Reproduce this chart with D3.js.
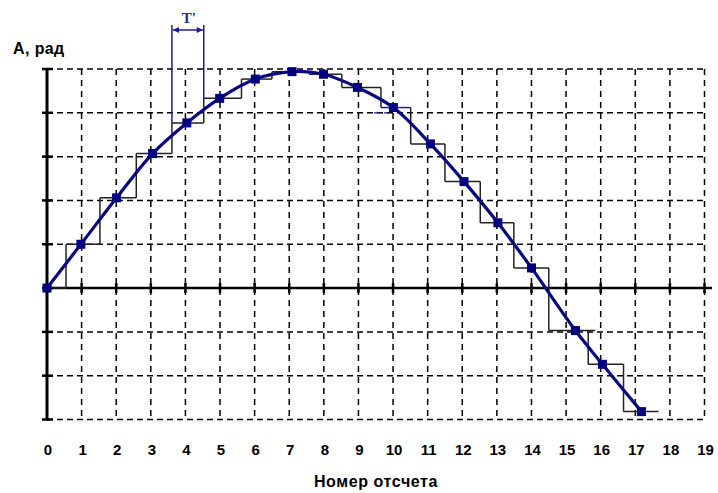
<!DOCTYPE html>
<html>
<head>
<meta charset="utf-8">
<script src="https://cdn.jsdelivr.net/npm/d3@7/dist/d3.min.js"></script>
<style>
  html, body { margin: 0; padding: 0; background: #fff; }
  svg { display: block; }
  text { font-family: Arial, "Liberation Sans", sans-serif; font-weight: bold; fill: #000; }
</style>
</head>
<body>
<script>
// sample positions (Номер отсчета) and signal values
var sampleX = [0, 0.98, 2.01, 3.05, 4.04, 4.99, 6.02, 7.08, 7.99, 8.97, 10.01, 11.08, 12.05, 13.03, 14.0, 15.27, 16.05, 17.18];
var sampleA = [0, 1.0, 2.06, 3.07, 3.77, 4.33, 4.77, 4.94, 4.88, 4.58, 4.12, 3.29, 2.43, 1.49, 0.46, -0.97, -1.74, -2.82];

// sample-and-hold staircase: where each held level starts and ends
var stepStart = [0, 0.55, 1.53, 2.58, 3.61, 4.53, 5.62, 6.5, 7.58, 8.52, 9.65, 10.51, 11.5, 12.52, 13.49, 14.5, 15.64, 16.66];
var stepEnd   = [0.55, 1.53, 2.58, 3.61, 4.53, 5.62, 6.5, 7.58, 8.52, 9.65, 10.51, 11.5, 12.52, 13.49, 14.5, 15.84, 16.66, 17.67];

var xTicks = d3.range(0, 20);
var yTicks = d3.range(-3, 6);

var width = 718, height = 493;

var x = d3.scaleLinear().domain([0, 19]).range([47, 704.5]);
var y = d3.scaleLinear().domain([-3, 5]).range([419.5, 69]);

var svg = d3.select("body").append("svg")
  .attr("width", width)
  .attr("height", height);

var defs = svg.append("defs");
["start", "end"].forEach(function(k) {
  defs.append("marker")
    .attr("id", "arr-" + k)
    .attr("viewBox", "0 0 10 10")
    .attr("refX", k === "end" ? 10 : 0)
    .attr("refY", 5)
    .attr("markerWidth", 8)
    .attr("markerHeight", 6)
    .attr("markerUnits", "userSpaceOnUse")
    .attr("orient", "auto")
    .append("path")
    .attr("d", k === "end" ? "M0,0 L10,5 L0,10 Z" : "M10,0 L0,5 L10,10 Z")
    .attr("fill", "#1c1c9a");
});

// ### GRID (dashed)
var grid = svg.append("g");
grid.selectAll("line.h")
  .data(yTicks.filter(function(d) { return d !== 0; }))
  .enter().append("line")
  .attr("class", "h")
  .attr("x1", x(0)).attr("x2", x(19))
  .attr("y1", function(d) { return y(d); })
  .attr("y2", function(d) { return y(d); })
  .attr("stroke", "#000").attr("stroke-width", 1.5)
  .attr("stroke-dasharray", "6,4");

grid.selectAll("line.v")
  .data(xTicks.slice(1))
  .enter().append("line")
  .attr("class", "v")
  .attr("x1", function(d) { return x(d); })
  .attr("x2", function(d) { return x(d); })
  .attr("y1", y(5)).attr("y2", y(-3))
  .attr("stroke", "#000").attr("stroke-width", 1.5)
  .attr("stroke-dasharray", "6,5");

// ### AXES
// vertical axis with short horizontal ticks
svg.append("line")
  .attr("x1", x(0)).attr("x2", x(0))
  .attr("y1", y(5) - 1).attr("y2", y(-3) + 1)
  .attr("stroke", "#000").attr("stroke-width", 3);
svg.selectAll("line.ytick")
  .data(yTicks)
  .enter().append("line")
  .attr("class", "ytick")
  .attr("x1", x(0) - 5).attr("x2", x(0) + 6)
  .attr("y1", function(d) { return y(d); })
  .attr("y2", function(d) { return y(d); })
  .attr("stroke", "#000").attr("stroke-width", 2.5);

// horizontal zero axis with vertical ticks
svg.append("line")
  .attr("x1", x(0)).attr("x2", 712)
  .attr("y1", y(0)).attr("y2", y(0))
  .attr("stroke", "#000").attr("stroke-width", 2.5);
svg.selectAll("line.xtick")
  .data(xTicks.slice(1))
  .enter().append("line")
  .attr("class", "xtick")
  .attr("x1", function(d) { return x(d); })
  .attr("x2", function(d) { return x(d); })
  .attr("y1", y(0) - 5).attr("y2", y(0) + 5)
  .attr("stroke", "#000").attr("stroke-width", 2.5);

// tick labels under the chart
svg.selectAll("text.xlab")
  .data(xTicks)
  .enter().append("text")
  .attr("class", "xlab")
  .attr("x", function(d) { return x(d) + 1; })
  .attr("y", 455)
  .attr("text-anchor", "middle")
  .style("font-size", "15px")
  .text(function(d) { return d; });

svg.append("text")
  .attr("x", 13).attr("y", 54)
  .style("font-size", "16px")
  .style("letter-spacing", "0.4px")
  .text("A, рад");

svg.append("text")
  .attr("x", 376).attr("y", 487)
  .attr("text-anchor", "middle")
  .style("font-size", "16px")
  .style("letter-spacing", "0.6px")
  .text("Номер отсчета");

// ### STAIRCASE (sample and hold)
var steps = svg.append("g");
steps.selectAll("line.hold")
  .data(sampleA)
  .enter().append("line")
  .attr("class", "hold")
  .attr("x1", function(d, i) { return x(stepStart[i]); })
  .attr("x2", function(d, i) { return x(stepEnd[i]); })
  .attr("y1", function(d) { return y(d); })
  .attr("y2", function(d) { return y(d); })
  .attr("stroke", function(d, i) { return i === 10 ? "#1c1c9a" : "#222"; })
  .attr("stroke-width", 1.5);
steps.selectAll("line.jump")
  .data(sampleA.slice(1))
  .enter().append("line")
  .attr("class", "jump")
  .attr("x1", function(d, i) { return x(stepStart[i + 1]); })
  .attr("x2", function(d, i) { return x(stepStart[i + 1]); })
  .attr("y1", function(d, i) { return y(sampleA[i]); })
  .attr("y2", function(d) { return y(d); })
  .attr("stroke", "#222")
  .attr("stroke-width", 1.5);

// small blue dash near sample 10
svg.append("line")
  .attr("x1", x(9.45)).attr("x2", x(9.95))
  .attr("y1", y(4)).attr("y2", y(4))
  .attr("stroke", "#1c1c9a").attr("stroke-width", 1.2)
  .attr("stroke-dasharray", "5,2,1,2");

// ### PERIOD BRACKET (T')
var bx = [stepStart[4], stepStart[5]];
var by = [sampleA[4], sampleA[5]];
svg.selectAll("line.brk")
  .data(bx)
  .enter().append("line")
  .attr("class", "brk")
  .attr("x1", function(d) { return x(d); })
  .attr("x2", function(d) { return x(d); })
  .attr("y1", 25)
  .attr("y2", function(d, i) { return y(by[i]); })
  .attr("stroke", "#1c1c9a").attr("stroke-width", 1.5);
svg.append("line")
  .attr("x1", x(bx[0]) + 1).attr("x2", x(bx[1]) - 1)
  .attr("y1", 30).attr("y2", 30)
  .attr("stroke", "#1c1c9a").attr("stroke-width", 1.5)
  .attr("marker-start", "url(#arr-start)")
  .attr("marker-end", "url(#arr-end)");
svg.append("text")
  .attr("x", (x(bx[0]) + x(bx[1])) / 2 + 1)
  .attr("y", 23)
  .attr("text-anchor", "middle")
  .style("font-family", "'Liberation Serif', 'DejaVu Serif', serif")
  .style("font-weight", "bold")
  .style("font-size", "15px")
  .style("fill", "#352a7a")
  .text("T'");

// ### SIGNAL CURVE
var pts = sampleX.map(function(d, i) { return [d, sampleA[i]]; });
var line = d3.line()
  .x(function(d) { return x(d[0]); })
  .y(function(d) { return y(d[1]); })
  .curve(d3.curveCatmullRom);

svg.append("path")
  .datum(pts)
  .attr("d", line)
  .attr("fill", "none")
  .attr("stroke", "#0a0a8c")
  .attr("stroke-width", 3.2);
svg.append("path")
  .datum(pts)
  .attr("d", line)
  .attr("fill", "none")
  .attr("stroke", "#000")
  .attr("stroke-width", 1.6)
  .attr("stroke-dasharray", "2,10");

svg.selectAll("rect.pt")
  .data(pts)
  .enter().append("rect")
  .attr("class", "pt")
  .attr("x", function(d) { return x(d[0]) - 4.5; })
  .attr("y", function(d) { return y(d[1]) - 4.5; })
  .attr("width", 9).attr("height", 9)
  .attr("fill", "#000080");
</script>
</body>
</html>
